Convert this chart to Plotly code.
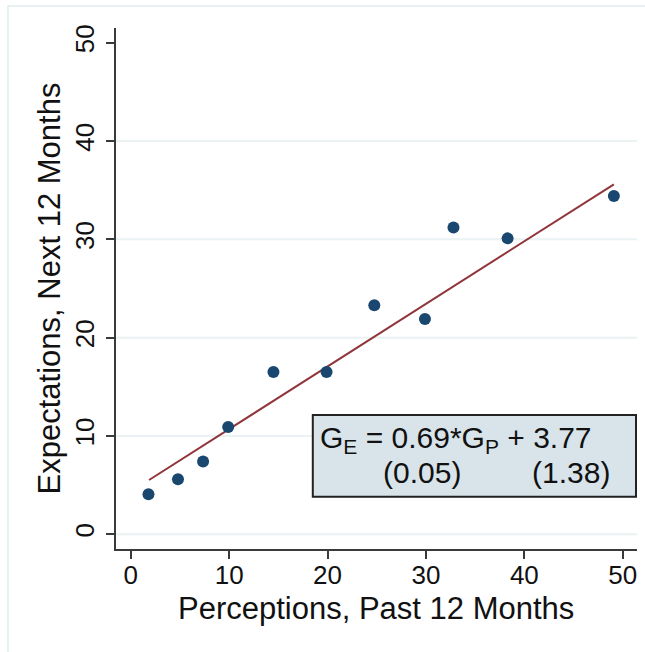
import plotly.graph_objects as go

# Data
perceptions = [1.8, 4.8, 7.35, 9.9, 14.5, 19.9, 24.75, 29.9, 32.8, 38.3, 49.1]
expectations = [4.07, 5.6, 7.4, 10.9, 16.5, 16.5, 23.3, 21.9, 31.2, 30.1, 34.4]
fit_x = [1.86, 49.1]
fit_y = [5.52, 35.6]
tick_vals = [0, 10, 20, 30, 40, 50]
grid_vals = [0, 10, 20, 30, 40]
eq_line1 = "G<sub>E</sub> = 0.69*G<sub>P</sub> + 3.77"
se_slope = "(0.05)"
se_const = "(1.38)"
x_title = "Perceptions, Past 12 Months"
y_title = "Expectations, Next 12 Months"

FONT = "Liberation Sans, Arial, Helvetica, sans-serif"
AXC = "#3a3a3a"
GRID = "#EAF2F3"

fig = go.Figure()
fig.add_trace(go.Scatter(x=fit_x, y=fit_y, mode="lines",
                         line=dict(color="#90353B", width=2), hoverinfo="skip"))
fig.add_trace(go.Scatter(x=perceptions, y=expectations, mode="markers",
                         marker=dict(color="#1A476F", size=12)))

# horizontal gridlines
for g in grid_vals:
    fig.add_shape(type="line", xref="paper", yref="y", x0=0, x1=1, y0=g, y1=g,
                  line=dict(color=GRID, width=2), layer="below")

# outer graph region border
fig.add_shape(type="rect", xref="paper", yref="paper",
              x0=-0.2073, x1=1.03, y0=-0.21, y1=1.0422,
              line=dict(color="#E2ECEE", width=1.5), layer="below")

# equation box
fig.add_shape(type="rect", xref="x", yref="y", x0=18.5, x1=51.35, y0=3.82, y1=12.14,
              fillcolor="#D8E4EA", line=dict(color="#222222", width=2), layer="above")
fig.add_annotation(x=19.0, y=9.6, xref="x", yref="y", text=eq_line1, showarrow=False,
                   xanchor="left", yanchor="middle", font=dict(family=FONT, size=30, color="#111"))
fig.add_annotation(x=29.55, y=6.3, xref="x", yref="y", text=se_slope, showarrow=False,
                   xanchor="center", yanchor="middle", font=dict(family=FONT, size=30, color="#111"))
fig.add_annotation(x=44.7, y=6.3, xref="x", yref="y", text=se_const, showarrow=False,
                   xanchor="center", yanchor="middle", font=dict(family=FONT, size=30, color="#111"))

# x axis title as annotation for precise placement
fig.add_annotation(x=(376 - 116) / 521, y=(549 - 608) / 521, xref="paper", yref="paper",
                   text=x_title, showarrow=False, xanchor="center", yanchor="middle",
                   font=dict(family=FONT, size=31, color="#111"))

fig.update_layout(
    width=645, height=652,
    margin=dict(l=116, r=8, t=28, b=103, autoexpand=False),
    paper_bgcolor="white", plot_bgcolor="white",
    showlegend=False,
    font=dict(family=FONT, color="#111"),
)
fig.update_xaxes(range=[-1.5, 51.45], tickvals=tick_vals, showgrid=False, zeroline=False,
                 showline=True, linecolor=AXC, linewidth=1.5,
                 ticks="outside", ticklen=8, tickwidth=1.5, tickcolor=AXC,
                 ticklabelstandoff=-6,
                 tickfont=dict(family=FONT, size=26, color="#111"),
                 automargin=False)
fig.update_yaxes(range=[-1.5, 51.5], tickvals=tick_vals, showgrid=False, zeroline=False,
                 showline=True, linecolor=AXC, linewidth=1.5,
                 ticks="outside", ticklen=8, tickwidth=1.5, tickcolor=AXC,
                 tickangle=-90, ticklabelstandoff=2,
                 tickfont=dict(family=FONT, size=26, color="#111"),
                 title=dict(text=y_title, font=dict(family=FONT, size=31, color="#111"), standoff=0),
                 automargin=False)

fig.write_html("out.html", config={"displayModeBar": False},
               post_script="document.body.style.margin='0px';document.body.style.overflow='hidden';")
